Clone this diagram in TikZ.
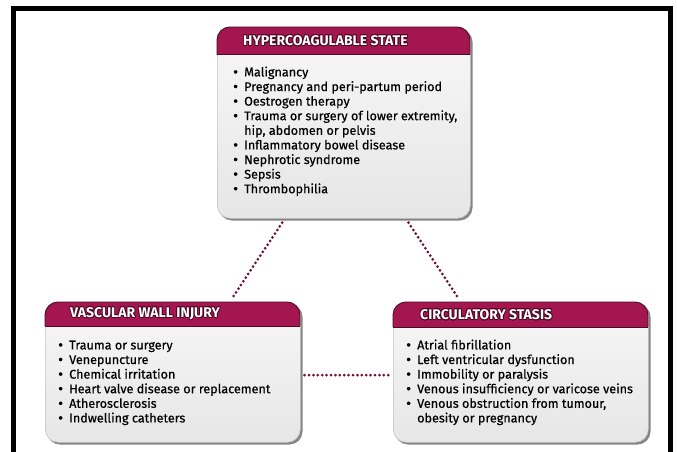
\documentclass[tikz,border=0pt]{standalone}
\usepackage{fontspec}
\setmainfont{Fira Sans}
\newfontfamily\bodyf{Fira Sans}[FakeBold=0.45]
\usepackage{contour}
\contourlength{0.75pt}
\contournumber{16}
\usetikzlibrary{calc}
\definecolor{hdrred}{HTML}{A3164F}
\definecolor{hdrdark}{HTML}{4E0824}
\definecolor{dotc}{HTML}{6E0F35}
\definecolor{bodytop}{HTML}{F7F7F7}
\definecolor{bodybot}{HTML}{E6E6E6}
\definecolor{shadowc}{HTML}{858585}
\definecolor{edgec}{HTML}{C4C4C4}
\newcommand\bl{\makebox[11pt][l]{\raisebox{-0.6pt}{\fontsize{15}{0}\selectfont\textbullet}}}
\newcommand\ind{\hspace*{11pt}}
\begin{document}
\begin{tikzpicture}[x=1pt,y=-1pt,
  boxbody/.style={rectangle, rounded corners=13pt, top color=bodytop, bottom color=bodybot, draw=edgec, line width=0.6pt, inner sep=0pt},
  hdrline/.style={draw=hdrdark, line width=0.9pt, rounded corners=13pt},
  hdrtext/.style={anchor=west, text=white, inner sep=0pt, font=\fontsize{14}{16}\selectfont\bfseries},
  listtext/.style={anchor=north west, inner sep=0pt, text=black, font=\fontsize{12.6}{14.6}\selectfont\bodyf},
  dots/.style={draw=dotc, line width=3pt, line cap=round, dash pattern=on 0pt off 4.4pt}]
\useasboundingbox (0,0) rectangle (677,452);
\fill[white] (0,0) rectangle (677,452);
\draw[line width=4.5pt] (13.5,460) -- (13.5,8.5) -- (670.5,8.5) -- (670.5,460);

% ---- top box
\fill[shadowc, rounded corners=13pt] (219,29) rectangle (472.5,220.5);
\node[boxbody, anchor=north west, minimum width=253pt, minimum height=191pt] (hyper) at (217,27) {};
\begin{scope}
  \clip[rounded corners=13pt] (217,27) rectangle (470,218);
  \fill[hdrred] (217,27) rectangle (470,55);
\end{scope}
\draw[hdrline] (217,55) -- (217,27) -- (470,27) -- (470,55);
\draw[hdrdark, line width=1pt] (217,55) -- (470,55);
\node[hdrtext] (hyperhdr) at (243,41) {\contour{hdrdark}{HYPERCOAGULABLE STATE}};
\node[listtext] (hyperlist) at (233,66) {\begin{tabular}{@{}l@{}}
\bl Malignancy\\
\bl Pregnancy and peri-partum period\\
\bl Oestrogen therapy\\
\bl Trauma or surgery of lower extremity,\\
\ind hip, abdomen or pelvis\\
\bl Inflammatory bowel disease\\
\bl Nephrotic syndrome\\
\bl Sepsis\\
\bl Thrombophilia
\end{tabular}};

% ---- left box
\fill[shadowc, rounded corners=13pt] (47,304) rectangle (302.5,444.5);
\node[boxbody, anchor=north west, minimum width=255pt, minimum height=140pt] (vasc) at (45,302) {};
\begin{scope}
  \clip[rounded corners=13pt] (45,302) rectangle (300,442);
  \fill[hdrred] (45,302) rectangle (300,326);
\end{scope}
\draw[hdrline] (45,326) -- (45,302) -- (300,302) -- (300,326);
\draw[hdrdark, line width=1pt] (45,326) -- (300,326);
\node[hdrtext] (vaschdr) at (70,314) {\contour{hdrdark}{VASCULAR WALL INJURY}};
\node[listtext] (vasclist) at (58,339) {\begin{tabular}{@{}l@{}}
\bl Trauma or surgery\\
\bl Venepuncture\\
\bl Chemical irritation\\
\bl Heart valve disease or replacement\\
\bl Atherosclerosis\\
\bl Indwelling catheters
\end{tabular}};

% ---- right box
\fill[shadowc, rounded corners=13pt] (395,304) rectangle (650.5,444.5);
\node[boxbody, anchor=north west, minimum width=255pt, minimum height=140pt] (stasis) at (393,302) {};
\begin{scope}
  \clip[rounded corners=13pt] (393,302) rectangle (648,442);
  \fill[hdrred] (393,302) rectangle (648,327);
\end{scope}
\draw[hdrline] (393,327) -- (393,302) -- (648,302) -- (648,327);
\draw[hdrdark, line width=1pt] (393,327) -- (648,327);
\node[hdrtext] (stasishdr) at (420,315) {\contour{hdrdark}{CIRCULATORY STASIS}};
\node[listtext] (stasislist) at (406,339) {\begin{tabular}{@{}l@{}}
\bl Atrial fibrillation\\
\bl Left ventricular dysfunction\\
\bl Immobility or paralysis\\
\bl Venous insufficiency or varicose veins\\
\bl Venous obstruction from tumour,\\
\ind obesity or pregnancy
\end{tabular}};

% ---- dotted connectors
\draw[dots] ($(hyper.south west)!0.257!(hyper.south east)+(0,4)$) -- ($(vasc.north west)!0.733!(vasc.north east)+(0,-4)$);
\draw[dots] ($(hyper.south west)!0.755!(hyper.south east)+(0,4)$) -- ($(stasis.north west)!0.255!(stasis.north east)+(0,-4)$);
\draw[dots] ($(vasc.north east)!0.52!(vasc.south east)+(4,0)$) -- ($(stasis.north west)!0.52!(stasis.south west)+(-2,0)$);
\end{tikzpicture}
\end{document}
